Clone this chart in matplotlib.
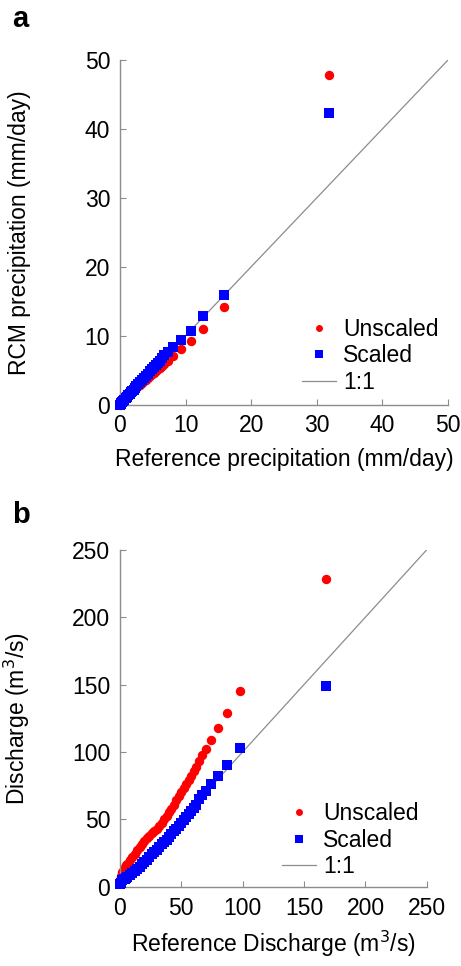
import matplotlib.pyplot as plt
from matplotlib.lines import Line2D

plt.rcParams['font.family'] = ['Liberation Sans', 'DejaVu Sans']

# panel a: precipitation quantiles (mm/day)
ref_precip = [0, 0.1, 0.2, 0.35, 0.5, 0.7, 0.9, 1.1, 1.3, 1.5, 1.7, 1.9, 2.1, 2.3, 2.5,
              2.8, 3.1, 3.4, 3.7, 4.0, 4.3, 4.6, 4.9, 5.2, 5.5, 5.8, 6.1, 6.4, 6.8, 7.3,
              8.1, 9.3, 10.8, 12.6, 15.8, 31.8]
unscaled_precip = [0, 0.3, 0.6, 0.9, 1.1, 1.3, 1.4, 1.5, 1.6, 1.7, 1.85, 2.0, 2.1, 2.25, 2.4,
                   2.65, 2.9, 3.15, 3.4, 3.65, 3.9, 4.15, 4.4, 4.65, 4.9, 5.15, 5.4, 5.6, 5.95, 6.35,
                   7.1, 8.1, 9.3, 11.0, 14.2, 47.8]
scaled_precip = [0, 0.1, 0.25, 0.4, 0.55, 0.75, 0.95, 1.15, 1.4, 1.6, 1.8, 2.0, 2.2, 2.45, 2.65,
                 3.0, 3.3, 3.6, 3.9, 4.2, 4.5, 4.85, 5.15, 5.45, 5.8, 6.1, 6.4, 6.75, 7.15, 7.7,
                 8.4, 9.4, 10.7, 12.8, 15.9, 42.3]

# panel b: discharge quantiles (m3/s)
ref_q = [0, 1, 2, 3, 4, 5, 6, 8, 10, 12, 14, 16, 18, 20, 22, 24, 26, 28, 30, 32, 34, 36, 38,
         40, 42, 44, 46, 48, 50, 52, 54, 56, 58, 60, 62, 64.5, 67, 70.5, 74.5, 80, 87, 97.5, 168]
unscaled_q = [5, 8, 11, 13, 14.5, 16, 17, 19.5, 22, 24.5, 27, 29.5, 31.8, 34, 36, 38, 40, 41.5,
              43, 45, 47.5, 50, 52.5, 55.5, 58, 61, 64, 67, 70.5, 73.5, 76.5, 79.5, 82.5, 86, 89,
              93, 97.5, 102.5, 109, 117.5, 129, 145, 228]
scaled_q = [2, 3, 5, 5.5, 6, 6.5, 7, 8.5, 10, 12, 13.5, 15, 17, 18.5, 20, 22, 24, 26, 27.5, 29.5,
            31.5, 33, 35, 37, 39, 41, 43, 45, 47.5, 49.5, 52, 54, 56, 58.5, 61, 65, 68, 71, 76,
            82.5, 90, 103, 149]

grey = '#8c8c8c'
fs = 16.5

fig = plt.figure(figsize=(4.61, 9.66), dpi=100)
ax1 = fig.add_axes([0.260, 0.581, 0.712, 0.357])
ax2 = fig.add_axes([0.260, 0.082, 0.666, 0.349])


def style(ax, lim, step):
    ax.plot([0, lim], [0, lim], color=grey, lw=0.9, zorder=1)
    ax.set_xlim(0, lim)
    ax.set_ylim(0, lim)
    ax.set_xticks(range(0, lim + 1, step))
    ax.set_yticks(range(0, lim + 1, step))
    for s in ['top', 'right']:
        ax.spines[s].set_visible(False)
    for s in ['left', 'bottom']:
        ax.spines[s].set_color(grey)
        ax.spines[s].set_linewidth(1.0)
    ax.tick_params(direction='in', length=4, color=grey, labelsize=fs, pad=7)
    ax.set_facecolor('none')


style(ax1, 50, 10)
ax1.scatter(ref_precip, unscaled_precip, s=46, marker='o', color='#ff0000', lw=0, zorder=2, clip_on=False)
ax1.scatter(ref_precip, scaled_precip, s=62, marker='s', color='#0000ff', lw=0, zorder=3, clip_on=False)
ax1.set_xlabel('Reference precipitation (mm/day)', fontsize=fs)
ax1.set_ylabel('RCM precipitation (mm/day)', fontsize=fs)
ax1.xaxis.set_label_coords(0.5, -0.125)
ax1.yaxis.set_label_coords(-0.27, 0.5)

style(ax2, 250, 50)
ax2.scatter(ref_q, unscaled_q, s=46, marker='o', color='#ff0000', lw=0, zorder=2, clip_on=False)
ax2.scatter(ref_q, scaled_q, s=62, marker='s', color='#0000ff', lw=0, zorder=3, clip_on=False)
ax2.set_xlabel('Reference Discharge (m$^3$/s)', fontsize=fs)
ax2.set_ylabel('Discharge (m$^3$/s)', fontsize=fs)
ax2.xaxis.set_label_coords(0.5, -0.125)
ax2.yaxis.set_label_coords(-0.287, 0.5)

handles = [Line2D([], [], ls='none', marker='o', ms=5, color='#ff0000', mew=0),
           Line2D([], [], ls='none', marker='s', ms=5.5, color='#0000ff', mew=0),
           Line2D([], [], color=grey, lw=0.9)]
names = ['Unscaled', 'Scaled', '1:1']
for ax, anchor in [(ax1, (0.52, 0.285)), (ax2, (0.49, 0.285))]:
    ax.legend(handles, names, loc='upper left', bbox_to_anchor=anchor, frameon=False,
              fontsize=fs, borderpad=0, handlelength=1.5, handletextpad=0.3,
              labelspacing=0.15)

fig.text(0.026, 0.972, 'a', fontsize=21, fontweight='bold')
fig.text(0.026, 0.459, 'b', fontsize=21, fontweight='bold')

plt.savefig('out.png', dpi=100)
